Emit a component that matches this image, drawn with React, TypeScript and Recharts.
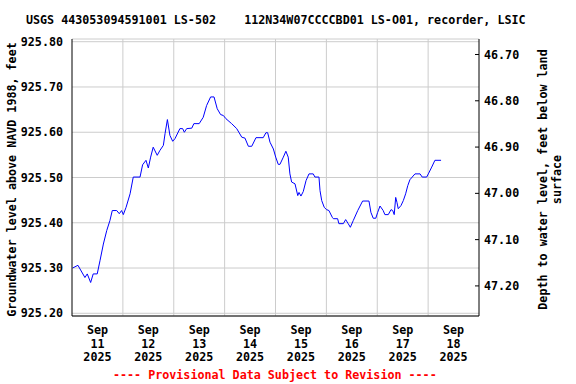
import React from 'react';
import { LineChart, Line, XAxis, YAxis, CartesianGrid, ReferenceLine } from 'recharts';

// Hours since Sep 11 2025 00:00
const HOURS = [
  0.3, 2.8, 6.1, 7.2, 8.8, 10.0, 11.9, 13.2, 14.8, 16.4, 17.9, 19.0, 21.1, 22.3, 23.4, 24.2,
  25.5, 27.4, 28.9, 32.1, 33.3, 34.9, 36.0, 37.1, 38.3, 40.2, 41.5, 43.1, 43.9, 45.0, 46.2,
  47.5, 48.6, 50.9, 52.2, 53.0, 54.1, 56.5, 57.5, 60.0, 61.9, 63.5, 65.4, 67.0, 68.5, 70.1,
  71.4, 72.6, 75.3, 77.7, 80.1, 81.6, 83.2, 84.8, 86.8, 90.2, 91.5, 92.3, 93.4, 95.0, 96.1,
  97.3, 98.1, 99.7, 100.9, 102.0, 102.8, 103.6, 105.2, 106.5, 107.1, 108.0, 109.1, 110.4,
  111.8, 113.8, 114.6, 116.5, 117.0, 117.8, 119.0, 120.1, 121.2, 122.8, 123.3, 125.3, 125.9,
  128.0, 129.1, 130.3, 131.3, 132.7, 134.8, 137.1, 140.1, 141.0, 142.1, 143.3, 144.2, 145.3,
  146.8, 147.6, 149.2, 150.5, 151.3, 152.0, 152.7, 153.3, 153.9, 155.2, 156.3, 157.4, 158.4,
  159.4, 160.5, 161.8, 164.2, 165.2, 167.3, 168.1, 169.7, 171.2, 174.1,
];

// Groundwater level above NAVD 1988, feet
const LEVELS = [
  925.300, 925.306, 925.279, 925.287, 925.268, 925.287, 925.287, 925.316, 925.353, 925.383,
  925.405, 925.427, 925.427, 925.420, 925.427, 925.418, 925.434, 925.464, 925.501, 925.501,
  925.528, 925.538, 925.521, 925.545, 925.567, 925.549, 925.560, 925.571, 925.597, 925.628,
  925.593, 925.580, 925.586, 925.608, 925.608, 925.600, 925.608, 925.609, 925.619, 925.619,
  925.633, 925.659, 925.678, 925.678, 925.652, 925.639, 925.637, 925.630, 925.619, 925.608,
  925.589, 925.587, 925.569, 925.569, 925.588, 925.588, 925.599, 925.599, 925.578, 925.563,
  925.545, 925.529, 925.529, 925.545, 925.558, 925.545, 925.508, 925.490, 925.486, 925.460,
  925.467, 925.459, 925.469, 925.493, 925.508, 925.508, 925.501, 925.501, 925.471, 925.449,
  925.434, 925.429, 925.427, 925.412, 925.409, 925.409, 925.398, 925.398, 925.407, 925.398,
  925.390, 925.405, 925.427, 925.448, 925.448, 925.423, 925.410, 925.410, 925.423, 925.437,
  925.427, 925.418, 925.418, 925.429, 925.427, 925.418, 925.456, 925.445, 925.431, 925.438,
  925.449, 925.464, 925.482, 925.495, 925.501, 925.508, 925.508, 925.501, 925.501, 925.508,
  925.523, 925.538, 925.538,
];

const LAND_SURFACE = 972.465;

const X_TICKS = [12, 36, 60, 84, 108, 132, 156, 180];
const X_TICK_MONTHS = ['Sep', 'Sep', 'Sep', 'Sep', 'Sep', 'Sep', 'Sep', 'Sep'];
const X_TICK_DAYS = ['11', '12', '13', '14', '15', '16', '17', '18'];
const X_TICK_YEARS = ['2025', '2025', '2025', '2025', '2025', '2025', '2025', '2025'];
const X_GRID = [24, 48, 72, 96, 120, 144, 168];

const LEFT_TICKS = [925.2, 925.3, 925.4, 925.5, 925.6, 925.7, 925.8];
const RIGHT_TICKS = [46.7, 46.8, 46.9, 47.0, 47.1, 47.2];

const TITLE = 'USGS 443053094591001 LS-502    112N34W07CCCCBD01 LS-O01, recorder, LSIC';
const LEFT_LABEL = 'Groundwater level above NAVD 1988, feet';
const RIGHT_LABEL_1 = 'Depth to water level, feet below land';
const RIGHT_LABEL_2 = 'surface';
const FOOTER = '---- Provisional Data Subject to Revision ----';

const FONT = '"DejaVu Sans Mono", "Liberation Mono", monospace';
const FS = 11.7;

const data = HOURS.map((h, i) => ({ h, level: LEVELS[i], depth: LAND_SURFACE - LEVELS[i] }));

const XTick = (props: any) => {
  const { x, y, payload } = props;
  const i = X_TICKS.indexOf(payload.value);
  return (
    <text x={x} y={y} textAnchor="middle" fontFamily={FONT} fontSize={FS} fontWeight="bold" fill="#000">
      <tspan x={x} dy={18}>{X_TICK_MONTHS[i]}</tspan>
      <tspan x={x} dy={13.5}>{X_TICK_DAYS[i]}</tspan>
      <tspan x={x} dy={13.5}>{X_TICK_YEARS[i]}</tspan>
    </text>
  );
};

const RightTick = (props: any) => {
  const { x, y, payload } = props;
  return (
    <g>
      <line x1={x - 9} x2={x - 5} y1={y} y2={y} stroke="#000" strokeWidth={1} />
      <text x={x} y={y} dy={4} textAnchor="start" fontFamily={FONT} fontSize={FS} fontWeight="bold" fill="#000">
        {payload.value.toFixed(2)}
      </text>
    </g>
  );
};

const LeftLabel = (props: any) => {
  const vb = props.viewBox || { x: 0, y: 39, width: 72, height: 277 };
  const cx = vb.x + 12;
  const cy = vb.y + vb.height / 2 + 2;
  return (
    <text x={cx} y={cy} transform={`rotate(-90 ${cx} ${cy})`} textAnchor="middle" dominantBaseline="central"
      fontFamily={FONT} fontSize={FS} fontWeight="bold" fill="#000">
      {LEFT_LABEL}
    </text>
  );
};

const RightLabel = (props: any) => {
  const vb = props.viewBox || { x: 479, y: 39, width: 97, height: 277 };
  const cy = vb.y + vb.height / 2 + 2;
  const x1 = vb.x + 64;
  const x2 = vb.x + 78;
  return (
    <g>
      <text x={x1} y={cy} transform={`rotate(-90 ${x1} ${cy})`} textAnchor="middle" dominantBaseline="central"
        fontFamily={FONT} fontSize={FS} fontWeight="bold" fill="#000">
        {RIGHT_LABEL_1}
      </text>
      <text x={x2} y={cy} transform={`rotate(-90 ${x2} ${cy})`} textAnchor="middle" dominantBaseline="central"
        fontFamily={FONT} fontSize={FS} fontWeight="bold" fill="#000">
        {RIGHT_LABEL_2}
      </text>
    </g>
  );
};

export default function App() {
  return (
    <div style={{ position: 'absolute', left: 0, top: 0, width: 576, height: 384, background: '#fff' }}>
      <div style={{ position: 'absolute', left: 26, top: 13, fontFamily: FONT, fontSize: FS, fontWeight: 'bold',
        lineHeight: '14px', whiteSpace: 'pre', color: '#000' }}>{TITLE}</div>
      <LineChart width={576} height={384} data={data} margin={{ top: 39, right: 0, bottom: 0, left: 0 }}>
        <CartesianGrid yAxisId="left" vertical={false} stroke="#cccccc" strokeWidth={1} />
        <XAxis dataKey="h" type="number" domain={[0, 192]} allowDataOverflow ticks={X_TICKS} interval={0}
          tick={<XTick />} tickLine={false} tickSize={0} tickMargin={0} height={68}
          axisLine={{ stroke: '#000', strokeWidth: 1 }} />
        <XAxis xAxisId="top" orientation="top" type="number" domain={[0, 192]} allowDataOverflow height={0}
          tick={false} tickLine={false} axisLine={{ stroke: '#000', strokeWidth: 1 }} />
        <YAxis yAxisId="left" orientation="left" type="number" domain={[925.194, 925.806]} allowDataOverflow
          ticks={LEFT_TICKS} interval={0} width={72} tickLine={false} tickSize={6} tickMargin={3}
          tickFormatter={(v: number) => v.toFixed(2)}
          tick={{ fontFamily: FONT, fontSize: FS, fontWeight: 'bold', fill: '#000' }}
          axisLine={{ stroke: '#000', strokeWidth: 1 }}
          label={{ content: (p: any) => <LeftLabel {...p} /> }} />
        <YAxis yAxisId="right" orientation="right" type="number" domain={[46.6665, 47.265]} reversed allowDataOverflow
          ticks={RIGHT_TICKS} interval={0} width={97} tickLine={false} tickSize={0} tickMargin={5}
          tick={<RightTick />}
          axisLine={{ stroke: '#000', strokeWidth: 1 }}
          label={{ content: (p: any) => <RightLabel {...p} /> }} />
        {X_GRID.map((g) => (
          <ReferenceLine key={g} x={g} yAxisId="left" stroke="#cccccc" strokeWidth={1} />
        ))}
        <Line yAxisId="right" dataKey="depth" stroke="none" dot={false} activeDot={false} isAnimationActive={false} />
        <Line yAxisId="left" dataKey="level" type="linear" stroke="#0000ff" strokeWidth={1} dot={false}
          activeDot={false} isAnimationActive={false} />
      </LineChart>
      <div style={{ position: 'absolute', left: 113, top: 368, fontFamily: FONT, fontSize: FS, fontWeight: 'bold',
        lineHeight: '14px', whiteSpace: 'pre', color: '#ff0000' }}>{FOOTER}</div>
    </div>
  );
}
